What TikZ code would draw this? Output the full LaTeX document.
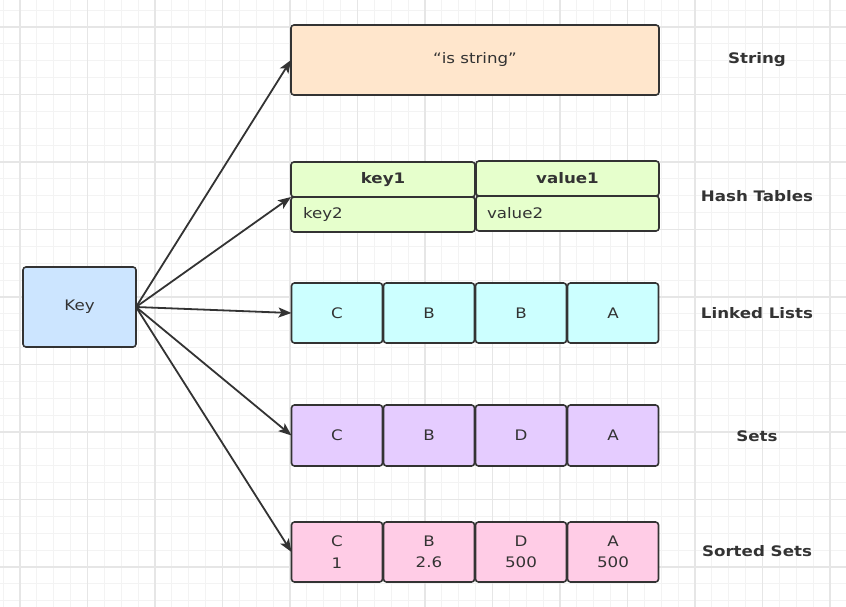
\documentclass[tikz,border=0pt]{standalone}
\usepackage{fontspec}
\setmainfont{DejaVu Sans}[FakeStretch=1.15]
\usetikzlibrary{arrows.meta}
\definecolor{edge}{HTML}{333333}
\definecolor{txt}{HTML}{333333}
\definecolor{keyfill}{HTML}{CCE5FF}
\definecolor{strfill}{HTML}{FFE6CC}
\definecolor{hashfill}{HTML}{E6FFCC}
\definecolor{listfill}{HTML}{CCFFFF}
\definecolor{setfill}{HTML}{E5CCFF}
\definecolor{zsetfill}{HTML}{FFCCE6}
\tikzset{
  minorgrid/.style={draw={rgb,255:red,243;green,243;blue,243}, line width=1pt},
  majorgrid/.style={draw={rgb,255:red,230;green,230;blue,230}, line width=1.4pt},
  cell/.style={draw=edge, line width=1.6pt, rounded corners=3pt, inner sep=0pt,
    outer sep=0pt, text=txt, align=center, font=\fontsize{14.5}{21.5}\selectfont},
  link/.style={draw=edge, line width=1.8pt, -{Stealth[length=13pt, width=10pt, inset=3pt]}},
  kind/.style={text=txt, font=\fontsize{14.5}{18}\selectfont\bfseries},
}
\begin{document}
\begin{tikzpicture}[x=1pt, y=-1pt]
        \useasboundingbox (0,0) rectangle (846,607);
        % Draw the grid
        \foreach \x in {3.125,20,...,846} \draw[minorgrid] (\x,0) -- (\x,607);
        \foreach \y in {10.125,27,...,607} \draw[minorgrid] (0,\y) -- (846,\y);
        \foreach \x in {20,87.5,...,846} \draw[majorgrid] (\x,0) -- (\x,607);
        \foreach \y in {27,94.5,...,607} \draw[majorgrid] (0,\y) -- (846,\y);

        % Draw the key and the string
        \node[cell, fill=keyfill, minimum width=113pt, minimum height=80pt] (key) at (79.5,307) {Key};
        \node[cell, fill=strfill, minimum width=368pt, minimum height=70pt] (str) at (475,60) {“is string”};

        % Draw the hash table
        \node[cell, fill=hashfill, minimum width=184pt, minimum height=35pt, font=\fontsize{14.5}{18}\selectfont\bfseries] (hk1) at (383,179.5) {key1};
        \node[cell, fill=hashfill, minimum width=183pt, minimum height=35pt, font=\fontsize{14.5}{18}\selectfont\bfseries] (hv1) at (567.5,178.5) {value1};
        \node[cell, fill=hashfill, inner xsep=12pt, text width=160pt, align=left, minimum height=35pt] (hk2) at (383,214.5) {key2};
        \node[cell, fill=hashfill, inner xsep=11pt, text width=161pt, align=left, minimum height=35pt] (hv2) at (567.5,213.5) {value2};

        % Draw the rows of cells
        \foreach \t [count=\i] in {C,B,B,A} {
            \node[cell, fill=listfill, minimum width=91pt, minimum height=60pt] (l\i) at ({245+92*\i},313) {\t};
        }
        \foreach \t [count=\i] in {C,B,D,A} {
            \node[cell, fill=setfill, minimum width=91pt, minimum height=61pt] (s\i) at ({245+92*\i},435.5) {\t};
        }
        \foreach \t/\s [count=\i] in {C/1,B/2.6,D/500,A/500} {
            \node[cell, fill=zsetfill, minimum width=91pt, minimum height=60pt] (z\i) at ({245+92*\i},552) {\t\\\s};
        }

        % Add type names
        \foreach \t/\y [count=\i] in {String/60,Hash Tables/196,Linked Lists/313,Sets/436,Sorted Sets/551} {
            \node[kind] (type\i) at (757,\y) {\t};
        }

        % Draw the arrows
        \foreach \target in {str.west,hk1.south west,l1.west,s1.west,z1.west} {
            \draw[link] (key.east) -- (\target);
        }
\end{tikzpicture}
\end{document}
